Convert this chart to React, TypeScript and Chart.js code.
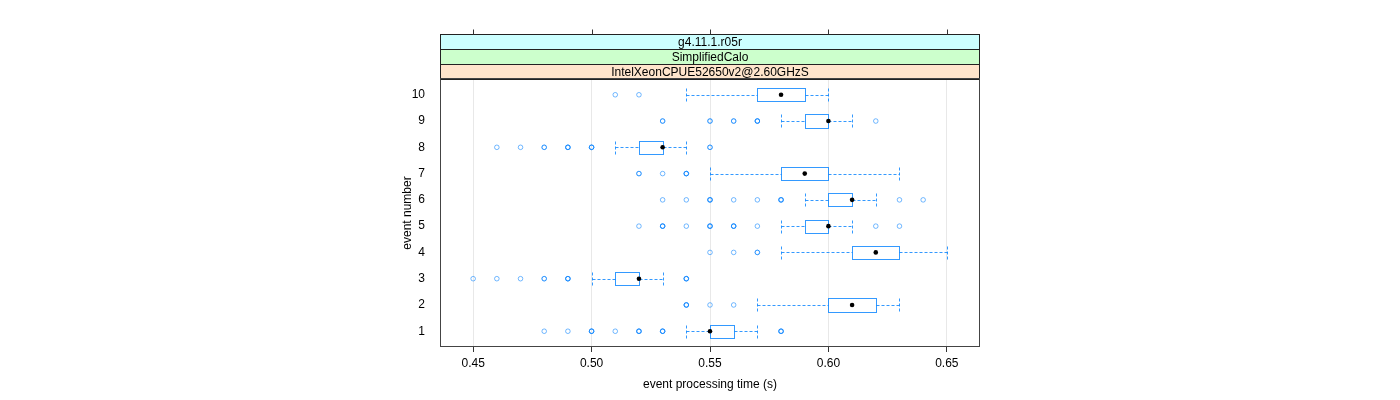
import React, { useEffect, useRef } from 'react';
import { Chart, registerables } from 'chart.js';

Chart.register(...registerables);

// ---- Data ----
const eventNumbers = [1, 2, 3, 4, 5, 6, 7, 8, 9, 10];
const whiskerLow = [0.54, 0.57, 0.50, 0.58, 0.58, 0.59, 0.55, 0.51, 0.58, 0.54];
const quartile1 = [0.55, 0.60, 0.51, 0.61, 0.59, 0.60, 0.58, 0.52, 0.59, 0.57];
const medians = [0.55, 0.61, 0.52, 0.62, 0.60, 0.61, 0.59, 0.53, 0.60, 0.58];
const quartile3 = [0.56, 0.62, 0.52, 0.63, 0.60, 0.61, 0.60, 0.53, 0.60, 0.59];
const whiskerHigh = [0.57, 0.63, 0.53, 0.65, 0.61, 0.62, 0.63, 0.54, 0.61, 0.60];
// outliers per event number (repeated values = overlapping observations)
const outliers1 = [0.48, 0.49, 0.50, 0.50, 0.50, 0.51, 0.52, 0.52, 0.52, 0.53, 0.53, 0.53, 0.58, 0.58, 0.58];
const outliers2 = [0.54, 0.54, 0.54, 0.55, 0.56];
const outliers3 = [0.45, 0.46, 0.47, 0.48, 0.48, 0.49, 0.49, 0.49, 0.54, 0.54, 0.54];
const outliers4 = [0.55, 0.56, 0.57, 0.57];
const outliers5 = [0.52, 0.53, 0.53, 0.53, 0.54, 0.55, 0.55, 0.55, 0.56, 0.56, 0.56, 0.57, 0.62, 0.63];
const outliers6 = [0.53, 0.54, 0.55, 0.55, 0.55, 0.56, 0.57, 0.58, 0.58, 0.58, 0.63, 0.64];
const outliers7 = [0.52, 0.52, 0.53, 0.54, 0.54, 0.54];
const outliers8 = [0.46, 0.47, 0.48, 0.48, 0.49, 0.49, 0.49, 0.50, 0.50, 0.50, 0.55, 0.55];
const outliers9 = [0.53, 0.53, 0.55, 0.55, 0.56, 0.56, 0.57, 0.57, 0.57, 0.62];
const outliers10 = [0.51, 0.52];
const outlierRows = [outliers1, outliers2, outliers3, outliers4, outliers5, outliers6, outliers7, outliers8, outliers9, outliers10];
const xTicks = [0.45, 0.5, 0.55, 0.6, 0.65];
const stripLabels = ['g4.11.1.r05r', 'SimplifiedCalo', 'IntelXeonCPUE52650v2@2.60GHzS'];
const stripColors = ['#ccffff', '#ccffcc', '#ffe5cc'];
const xTitle = 'event processing time (s)';
const yTitle = 'event number';

const FONT = '"Liberation Sans", Arial, sans-serif';
const BLUE = 'rgba(0,128,255,0.8)';
const boxHalf = 0.25;

const bwPlugin = {
  id: 'bwPlugin',
  beforeDatasetsDraw(chart: any) {
    const { ctx, scales } = chart;
    const x = scales.x;
    const y = scales.y;
    const ca = chart.chartArea;
    ctx.save();
    ctx.beginPath();
    ctx.rect(ca.left, ca.top, ca.right - ca.left, ca.bottom - ca.top);
    ctx.clip();
    ctx.lineWidth = 1;
    ctx.strokeStyle = BLUE;
    eventNumbers.forEach((n, i) => {
      const yc = Math.round(y.getPixelForValue(n)) + 0.5;
      const yt = Math.round(y.getPixelForValue(n + boxHalf)) + 0.5;
      const yb = Math.round(y.getPixelForValue(n - boxHalf)) + 0.5;
      const xlo = Math.round(x.getPixelForValue(whiskerLow[i])) + 0.5;
      const xq1 = Math.round(x.getPixelForValue(quartile1[i])) + 0.5;
      const xq3 = Math.round(x.getPixelForValue(quartile3[i])) + 0.5;
      const xhi = Math.round(x.getPixelForValue(whiskerHigh[i])) + 0.5;
      ctx.setLineDash([3, 2]);
      ctx.beginPath();
      ctx.moveTo(xlo, yc); ctx.lineTo(xq1, yc);
      ctx.moveTo(xq3, yc); ctx.lineTo(xhi, yc);
      ctx.moveTo(xlo, yt); ctx.lineTo(xlo, yb);
      ctx.moveTo(xhi, yt); ctx.lineTo(xhi, yb);
      ctx.stroke();
      ctx.setLineDash([]);
      ctx.strokeRect(xq1, yt, Math.max(xq3 - xq1, 0), yb - yt);
    });
    ctx.restore();
  },
  afterDraw(chart: any) {
    const { ctx, scales } = chart;
    const x = scales.x;
    const ca = chart.chartArea;
    ctx.save();
    const L = Math.round(ca.left) + 0.5;
    const R = Math.round(ca.right) - 0.5;
    const T = Math.round(ca.top) - 0.5;
    const B = Math.round(ca.bottom) - 0.5;
    const stripH = 14.7;
    const stripTop = T - stripH * 3;
    // strips
    stripLabels.forEach((lab, i) => {
      const top = Math.round(stripTop + i * stripH) + 0.5;
      const bot = Math.round(stripTop + (i + 1) * stripH) + 0.5;
      ctx.fillStyle = stripColors[i];
      ctx.fillRect(L, top, R - L, bot - top);
      ctx.strokeStyle = '#222';
      ctx.lineWidth = 1;
      ctx.strokeRect(L, top, R - L, bot - top);
      ctx.fillStyle = '#000';
      ctx.font = `12px ${FONT}`;
      ctx.textAlign = 'center';
      ctx.textBaseline = 'middle';
      ctx.fillText(lab, (L + R) / 2, (top + bot) / 2 + 0.5);
    });
    // top ticks
    const st = Math.round(stripTop) + 0.5;
    ctx.strokeStyle = '#333';
    ctx.beginPath();
    xTicks.forEach((v) => {
      const px = Math.round(x.getPixelForValue(v)) + 0.5;
      ctx.moveTo(px, st);
      ctx.lineTo(px, st - 5);
    });
    ctx.stroke();
    // panel border
    ctx.strokeStyle = '#444';
    ctx.strokeRect(L, T, R - L, B - T);
    // axis titles
    ctx.fillStyle = '#000';
    ctx.font = `12px ${FONT}`;
    ctx.textAlign = 'center';
    ctx.textBaseline = 'middle';
    ctx.fillText(xTitle, (ca.left + ca.right) / 2, 385);
    ctx.translate(408, (ca.top + ca.bottom) / 2);
    ctx.rotate(-Math.PI / 2);
    ctx.fillText(yTitle, 0, 0);
    ctx.restore();
  },
};

export default function App() {
  const ref = useRef<HTMLCanvasElement | null>(null);
  useEffect(() => {
    document.body.style.margin = '0';
    const canvas = ref.current;
    if (!canvas) return;
    const outlierPoints: { x: number; y: number }[] = [];
    outlierRows.forEach((row, i) => row.forEach((v) => outlierPoints.push({ x: v, y: eventNumbers[i] })));
    const medianPoints = medians.map((v, i) => ({ x: v, y: eventNumbers[i] }));
    const chart = new Chart(canvas, {
      type: 'scatter',
      data: {
        datasets: [
          {
            label: 'outliers',
            data: outlierPoints,
            pointRadius: 2.3,
            pointBorderWidth: 1,
            pointBackgroundColor: 'rgba(0,0,0,0)',
            pointBorderColor: 'rgba(0,128,255,0.55)',
          },
          {
            label: 'median',
            data: medianPoints,
            pointRadius: 2.3,
            pointBorderWidth: 0,
            pointBackgroundColor: '#000',
            pointBorderColor: '#000',
          },
        ],
      },
      options: {
        responsive: false,
        animation: false,
        devicePixelRatio: 1,
        layout: { padding: { top: 79, right: 420, bottom: 0, left: 0 } },
        plugins: { legend: { display: false }, tooltip: { enabled: false }, title: { display: false } },
        scales: {
          x: {
            type: 'linear',
            position: 'bottom',
            min: 0.436,
            max: 0.664,
            afterBuildTicks: (s: any) => { s.ticks = xTicks.map((v) => ({ value: v })); },
            afterFit: (s: any) => { s.height = 53; },
            border: { display: false },
            grid: { color: '#e8e8e8', tickColor: '#333', tickLength: 5, drawTicks: true, lineWidth: 1 },
            ticks: {
              color: '#000',
              font: { family: FONT, size: 12 },
              padding: 4,
              maxRotation: 0,
              callback: (v: any) => Number(v).toFixed(2),
            },
          },
          y: {
            type: 'linear',
            position: 'left',
            min: 0.4,
            max: 10.6,
            afterBuildTicks: (s: any) => { s.ticks = eventNumbers.map((v) => ({ value: v })); },
            afterFit: (s: any) => { s.width = 440; },
            border: { display: false },
            grid: { display: false },
            ticks: {
              color: '#000',
              font: { family: FONT, size: 12 },
              padding: 7,
              callback: (v: any) => String(v),
            },
          },
        },
      },
      plugins: [bwPlugin],
    } as any);
    return () => chart.destroy();
  }, []);
  return <canvas ref={ref} width={1400} height={400} style={{ display: 'block', width: 1400, height: 400 }} />;
}
